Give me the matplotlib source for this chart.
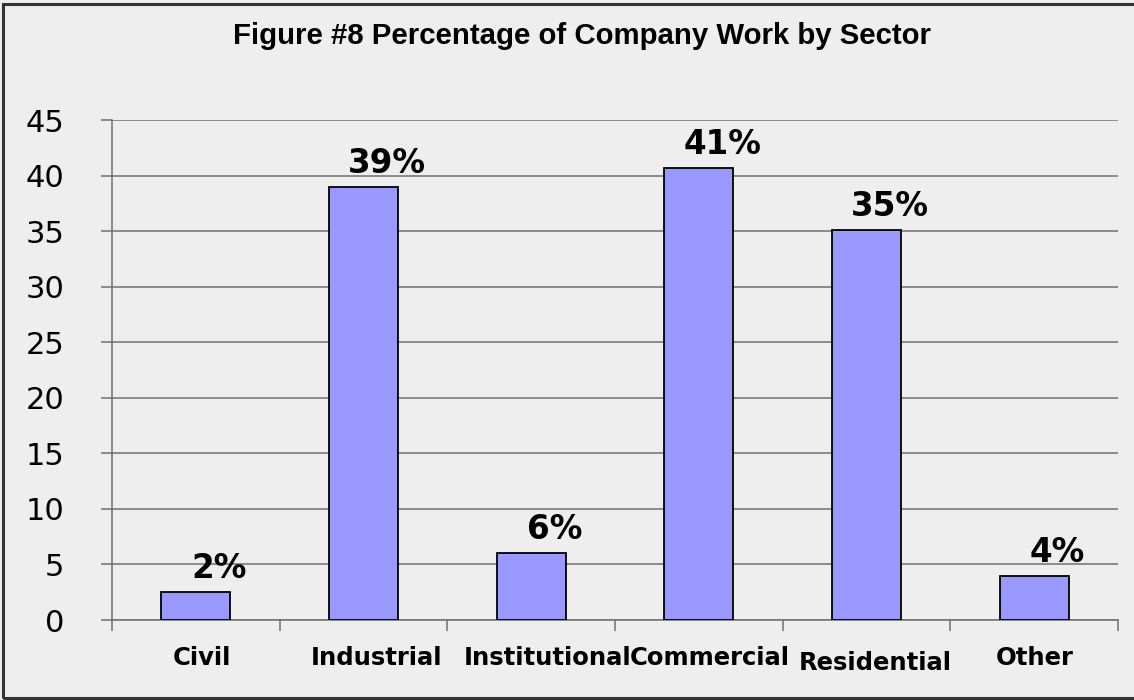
import matplotlib
matplotlib.use("Agg")
import matplotlib.pyplot as plt
import matplotlib.transforms as mtransforms
from matplotlib.patches import Rectangle

categories = ["Civil", "Industrial", "Institutional", "Commercial", "Residential", "Other"]
values = [2.5, 39.0, 6.0, 40.7, 35.1, 4.0]
labels = ["2%", "39%", "6%", "41%", "35%", "4%"]
yticks = [0, 5, 10, 15, 20, 25, 30, 35, 40, 45]
title = "Figure #8 Percentage of Company Work by Sector"

DPI = 100
fig = plt.figure(figsize=(11.34, 7.0), dpi=DPI, facecolor="#EEEEEE")
ax = fig.add_axes([112/1134, 1-620/700, (1118-112)/1134, (620-120)/700])
ax.set_facecolor("#EEEEEE")

x = list(range(len(categories)))
ax.bar(x, values, width=0.41, color="#9999FF", edgecolor="black", linewidth=1.3, zorder=3)

ax.set_xlim(-0.5, len(categories) - 0.5)
ax.set_ylim(0, 45)
ax.set_yticks(yticks)
ax.set_yticklabels([str(v) for v in yticks], fontsize=22, family="DejaVu Sans")
ax.yaxis.grid(True, color="#707070", linewidth=1.1, zorder=0)
ax.tick_params(axis="y", length=8, color="#707070", width=1.1, pad=26.5)

ax.set_xticks(x)
ax.set_xticklabels(categories, fontsize=17.5, fontweight="bold", family="DejaVu Sans")
ax.set_xticks([i - 0.5 for i in range(len(categories) + 1)], minor=True)
ax.tick_params(axis="x", which="major", length=0, pad=19)
ax.tick_params(axis="x", which="minor", length=8, color="#707070", width=1.1)

# per-label fine offsets (pixels)
xoffs = [6, 13, 16, 11, 9, 1]
yoffs = [0, 0, 0, 0, -5, 0]
for lab, dx, dy in zip(ax.get_xticklabels(), xoffs, yoffs):
    lab.set_transform(lab.get_transform() + mtransforms.ScaledTranslation(dx/DPI, dy/DPI, fig.dpi_scale_trans))

for s in ["top", "right"]:
    ax.spines[s].set_visible(False)
for s in ["left", "bottom"]:
    ax.spines[s].set_color("#707070")
    ax.spines[s].set_linewidth(1.1)

for xi, v, t in zip(x, values, labels):
    ax.annotate(t, xy=(xi, v), xytext=(23.5*72/DPI, 23.5*72/DPI), textcoords="offset points",
                ha="center", va="center", fontsize=23.5, fontweight="bold", family="DejaVu Sans", zorder=4)

fig.text(582/1134, 1-36/700, title, ha="center", va="center", fontsize=21.2,
         fontweight="bold", family="Liberation Sans")

border = Rectangle((3/1134, 2/700), 1.2, 1-6/700, transform=fig.transFigure, fill=False,
                   edgecolor="#333333", linewidth=2.2, clip_on=False)
fig.patches.append(border)

fig.savefig("out.png", dpi=DPI, facecolor=fig.get_facecolor())
